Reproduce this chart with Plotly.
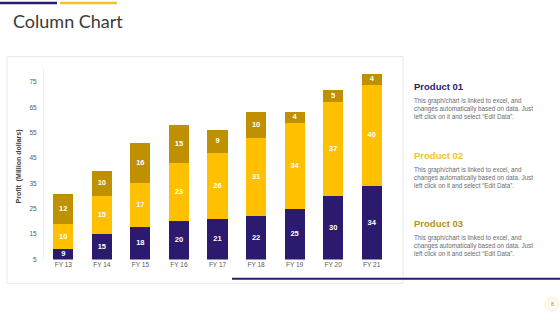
import plotly.graph_objects as go

# ---- data ----
categories = ["FY 13", "FY 14", "FY 15", "FY 16", "FY 17", "FY 18", "FY 19", "FY 20", "FY 21"]
product_01 = [9, 15, 18, 20, 21, 22, 25, 30, 34]
product_02 = [10, 15, 17, 23, 26, 31, 34, 37, 40]
product_03 = [12, 10, 16, 15, 9, 10, 4, 5, 4]
y_ticks = [5, 15, 25, 35, 45, 55, 65, 75]
series_names = ["Product 01", "Product 02", "Product 03"]

W, H = 560, 315
PURPLE = "#2B1A6E"
YELLOW = "#FFC000"
GOLD = "#BF9000"
Y_MIN, Y_MAX = 5, 80


def px(x):
    return x / W


def py(y):
    return 1 - y / H


fig = go.Figure()
series = [product_01, product_02, product_03]
colors = [PURPLE, YELLOW, GOLD]
base = [0] * len(categories)
for name, vals, col in zip(series_names, series, colors):
    fig.add_trace(go.Bar(
        x=categories, y=vals, name=name, marker=dict(color=col, line=dict(width=0)),
        hoverinfo="skip",
    ))
    # value labels centred in the visible part of each segment
    mids = [(max(b, Y_MIN) + b + v) / 2 for b, v in zip(base, vals)]
    fig.add_trace(go.Scatter(
        x=categories, y=mids, mode="text", text=[str(v) for v in vals],
        textfont=dict(family="Liberation Sans, Arial", size=7.5, color="white", weight="bold"),
        hoverinfo="skip", cliponaxis=False,
    ))
    base = [b + v for b, v in zip(base, vals)]

shapes = [
    # chart panel
    dict(type="rect", xref="paper", yref="paper", x0=px(7), x1=px(403), y0=py(286), y1=py(57),
         line=dict(color="#E8E8E8", width=1), fillcolor="white", layer="below"),
    # top decorative lines
    dict(type="line", xref="paper", yref="paper", x0=px(0), x1=px(57), y0=py(3), y1=py(3),
         line=dict(color=PURPLE, width=2.5)),
    dict(type="line", xref="paper", yref="paper", x0=px(60), x1=px(117), y0=py(3), y1=py(3),
         line=dict(color="#F2C12E", width=2.5)),
    # bottom line
    dict(type="line", xref="paper", yref="paper", x0=px(232), x1=px(560), y0=py(281.5), y1=py(281.5),
         line=dict(color=PURPLE, width=2)),
    # page number circle
    dict(type="circle", xref="paper", yref="paper", x0=px(545), x1=px(559), y0=py(314), y1=py(300),
         line=dict(color="#FBF1D6", width=1), fillcolor="#FEF9EC"),
]

desc = "This graph/chart is linked to excel, and<br>changes automatically based on data. Just<br>left click on it and select “Edit Data”."
annotations = [
    dict(text="Column Chart", xref="paper", yref="paper", x=px(11), y=py(21), xanchor="left", yanchor="middle",
         showarrow=False, font=dict(family="Lato", size=18, color="#3A3A3A")),
    dict(text="<b>Profit  (Million dollars)</b>", xref="paper", yref="paper", x=px(19), y=py(168),
         xanchor="center", yanchor="middle", textangle=-90, showarrow=False,
         font=dict(family="Liberation Sans, Arial", size=7, color="#404040")),
    dict(text="8", xref="paper", yref="paper", x=px(552), y=py(307), xanchor="center", yanchor="middle",
         showarrow=False, font=dict(family="Liberation Sans, Arial", size=5, color="#888888")),
]
head_cols = [PURPLE, "#F2C12E", "#B8900F"]
head_y = [87, 157, 226]
for name, col, hy in zip(series_names, head_cols, head_y):
    annotations.append(dict(text="<b>" + name + "</b>", xref="paper", yref="paper", x=px(412), y=py(hy),
                            xanchor="left", yanchor="middle", showarrow=False,
                            font=dict(family="Liberation Sans, Arial", size=9.5, color=col)))
    annotations.append(dict(text=desc, xref="paper", yref="paper", x=px(412), y=py(hy + 8.5),
                            xanchor="left", yanchor="top", align="left", showarrow=False,
                            font=dict(family="Liberation Sans, Arial", size=6.3, color="#6B6B6B")))

fig.update_layout(
    width=W, height=H, autosize=False,
    margin=dict(l=0, r=0, t=0, b=0),
    paper_bgcolor="white", plot_bgcolor="white",
    barmode="stack", bargap=0.48,
    showlegend=False,
    shapes=shapes, annotations=annotations,
    xaxis=dict(domain=[px(44), px(391)], range=[-0.5, 8.5], showgrid=False, zeroline=False,
               showline=False, ticks="", tickfont=dict(family="Liberation Sans, Arial", size=6.5, color="#595959"),
               fixedrange=True),
    yaxis=dict(domain=[py(262), py(70)], range=[Y_MIN, Y_MAX], tickvals=y_ticks, showgrid=False, zeroline=False,
               showline=True, linecolor="#F0F0F0", linewidth=1, ticks="",
               tickfont=dict(family="Liberation Sans, Arial", size=6.5, color="#595959"),
               ticklabelstandoff=5, fixedrange=True),
)

fig.write_html("out.html")
